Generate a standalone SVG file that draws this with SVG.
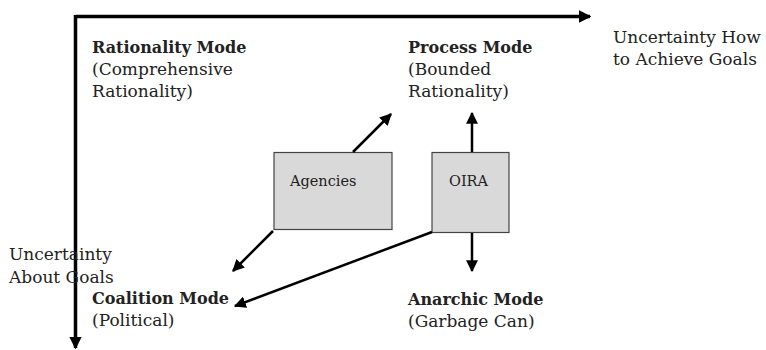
<svg xmlns="http://www.w3.org/2000/svg" width="766" height="350" viewBox="0 0 766 350">
  <style>
    text { font-family: "DejaVu Serif", "Liberation Serif", serif; fill: #222; font-size: 17px; }
    .b { font-weight: bold; font-size: 16px; }
    .box { fill: #d9d9d9; stroke: #444; stroke-width: 1.2; }
    .lbl { font-size: 14.5px; }
    .ax { stroke: #000; stroke-width: 3.5; fill: none; }
    .ln { stroke: #000; stroke-width: 2.5; fill: none; }
  </style>
  <defs>
    <marker id="ah" viewBox="0 0 10 10" refX="9" refY="5" markerWidth="4.8" markerHeight="4.8" orient="auto" markerUnits="strokeWidth">
      <path d="M0,0 L10,5 L0,10 Z" fill="#000"/>
    </marker>
    <marker id="ahx" viewBox="0 0 10 10" refX="9" refY="5" markerWidth="3.6" markerHeight="3.6" orient="auto" markerUnits="strokeWidth">
      <path d="M0,0 L10,5 L0,10 Z" fill="#000"/>
    </marker>
  </defs>

  <!-- axes -->
  <g id="axes">
    <path class="ax" d="M75.5,16.5 L590,16.5" marker-end="url(#ahx)"/>
    <path class="ax" d="M75.5,15 L75.5,348" marker-end="url(#ahx)"/>
  </g>

  <!-- axis labels -->
  <g id="axis-x-label">
    <text x="613" y="43">Uncertainty How</text>
    <text x="613" y="65">to Achieve Goals</text>
  </g>
  <g id="axis-y-label">
    <text x="9" y="260">Uncertainty</text>
    <text x="9" y="283">About Goals</text>
  </g>

  <!-- quadrants -->
  <g id="rationality-mode">
    <text class="b" x="92" y="53">Rationality Mode</text>
    <text x="92" y="75">(Comprehensive</text>
    <text x="92" y="97">Rationality)</text>
  </g>
  <g id="process-mode">
    <text class="b" x="408" y="53">Process Mode</text>
    <text x="408" y="75">(Bounded</text>
    <text x="408" y="97">Rationality)</text>
  </g>
  <g id="coalition-mode">
    <text class="b" x="92" y="304">Coalition Mode</text>
    <text x="92" y="326">(Political)</text>
  </g>
  <g id="anarchic-mode">
    <text class="b" x="408" y="305">Anarchic Mode</text>
    <text x="408" y="327">(Garbage Can)</text>
  </g>

  <!-- actors -->
  <g id="agencies">
    <rect class="box" x="274" y="152.5" width="118" height="77"/>
    <text class="lbl" x="290" y="186">Agencies</text>
  </g>
  <g id="oira">
    <rect class="box" x="432" y="152.5" width="77" height="80"/>
    <text class="lbl" x="449" y="186">OIRA</text>
  </g>

  <!-- connectors -->
  <g id="connectors">
    <path class="ln" d="M353,152 L391,114" marker-end="url(#ah)"/>
    <path class="ln" d="M472,152 L472,113" marker-end="url(#ah)"/>
    <path class="ln" d="M472,233 L472,271" marker-end="url(#ah)"/>
    <path class="ln" d="M273,231 L233,271" marker-end="url(#ah)"/>
    <path class="ln" d="M432,232 L235,306" marker-end="url(#ah)"/>
  </g>
</svg>
